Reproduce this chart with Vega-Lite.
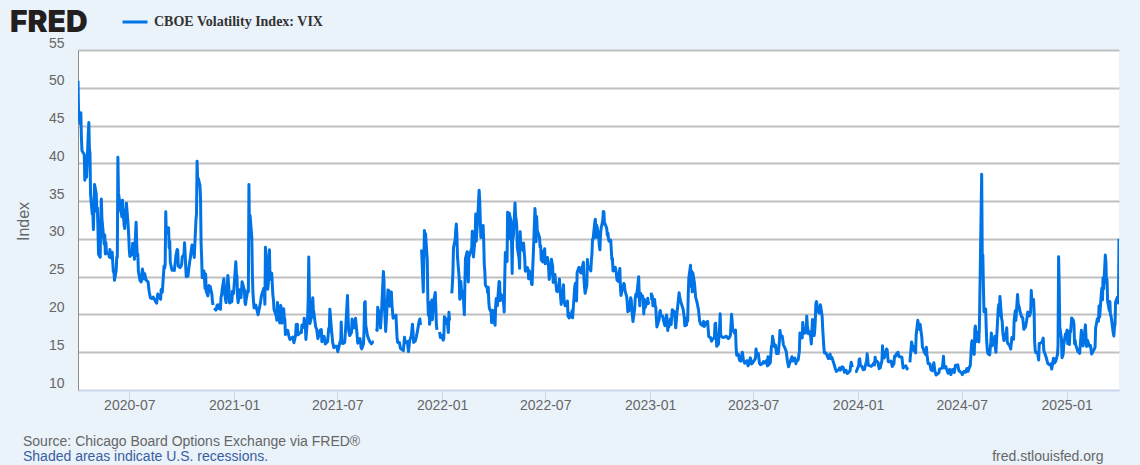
{"$schema":"https://vega.github.io/schema/vega-lite/v6.json","width":1041,"height":340,"autosize":"none","padding":{"left":78,"top":50,"right":21,"bottom":75},"background":"#eaf2fa","view":{"fill":"white","stroke":null},
"title":{"text":"Source: Chicago Board Options Exchange via FRED®","subtitle":"Shaded areas indicate U.S. recessions.","orient":"bottom","anchor":"start","frame":"group","dx":-55,"offset":-28,"font":"Liberation Sans","fontWeight":"normal","fontSize":14,"color":"#666666","subtitleFont":"Liberation Sans","subtitleFontSize":14,"subtitleColor":"#3a5e9e","subtitlePadding":1},
"data":{"values":[
{"d":"2020-04-02","v":50.91},{"d":"2020-04-03","v":46.8},{"d":"2020-04-06","v":45.24},{"d":"2020-04-07","v":46.7},{"d":"2020-04-08","v":43.35},{"d":"2020-04-09","v":41.67},{"d":"2020-04-13","v":41.17},{"d":"2020-04-14","v":37.76},{"d":"2020-04-15","v":40.84},{"d":"2020-04-16","v":40.11},{"d":"2020-04-17","v":38.15},{"d":"2020-04-20","v":43.83},{"d":"2020-04-21","v":45.41},{"d":"2020-04-22","v":41.98},{"d":"2020-04-23","v":41.38},{"d":"2020-04-24","v":35.93},{"d":"2020-04-27","v":33.29},{"d":"2020-04-28","v":33.57},{"d":"2020-04-29","v":31.23},{"d":"2020-04-30","v":34.15},{"d":"2020-05-01","v":37.19},{"d":"2020-05-04","v":35.97},{"d":"2020-05-05","v":33.61},{"d":"2020-05-06","v":34.12},{"d":"2020-05-07","v":31.44},{"d":"2020-05-08","v":27.98},{"d":"2020-05-11","v":27.57},{"d":"2020-05-12","v":33.04},{"d":"2020-05-13","v":35.28},{"d":"2020-05-14","v":32.61},{"d":"2020-05-15","v":31.89},{"d":"2020-05-18","v":29.3},{"d":"2020-05-19","v":30.53},{"d":"2020-05-20","v":27.99},{"d":"2020-05-21","v":29.53},{"d":"2020-05-22","v":28.16},{"d":"2020-05-26","v":28.01},{"d":"2020-05-27","v":27.62},{"d":"2020-05-28","v":28.59},{"d":"2020-05-29","v":27.51},{"d":"2020-06-01","v":28.23},{"d":"2020-06-02","v":26.84},{"d":"2020-06-03","v":25.66},{"d":"2020-06-04","v":25.81},{"d":"2020-06-05","v":24.52},{"d":"2020-06-08","v":25.81},{"d":"2020-06-09","v":27.57},{"d":"2020-06-10","v":27.57},{"d":"2020-06-11","v":40.79},{"d":"2020-06-12","v":36.09},{"d":"2020-06-15","v":34.4},{"d":"2020-06-16","v":33.67},{"d":"2020-06-17","v":33.47},{"d":"2020-06-18","v":32.94},{"d":"2020-06-19","v":35.12},{"d":"2020-06-22","v":31.77},{"d":"2020-06-23","v":31.37},{"d":"2020-06-24","v":33.84},{"d":"2020-06-25","v":32.22},{"d":"2020-06-26","v":34.73},{"d":"2020-06-29","v":31.78},{"d":"2020-06-30","v":30.43},{"d":"2020-07-01","v":28.62},{"d":"2020-07-02","v":27.68},{"d":"2020-07-06","v":27.94},{"d":"2020-07-07","v":29.43},{"d":"2020-07-08","v":28.08},{"d":"2020-07-09","v":29.26},{"d":"2020-07-10","v":27.29},{"d":"2020-07-13","v":32.19},{"d":"2020-07-14","v":29.52},{"d":"2020-07-15","v":27.76},{"d":"2020-07-16","v":28},{"d":"2020-07-17","v":25.68},{"d":"2020-07-20","v":24.46},{"d":"2020-07-22","v":24.3},{"d":"2020-07-24","v":26},{"d":"2020-07-27","v":24.7},{"d":"2020-07-28","v":25.4},{"d":"2020-07-30","v":24.7},{"d":"2020-07-31","v":24.5},{"d":"2020-08-03","v":24.3},{"d":"2020-08-05","v":23},{"d":"2020-08-07","v":22.2},{"d":"2020-08-10","v":22.1},{"d":"2020-08-12","v":22.3},{"d":"2020-08-14","v":22},{"d":"2020-08-18","v":21.5},{"d":"2020-08-20","v":22.7},{"d":"2020-08-21","v":22.5},{"d":"2020-08-25","v":22},{"d":"2020-08-26","v":23.3},{"d":"2020-08-28","v":22.96},{"d":"2020-08-31","v":26.4},{"d":"2020-09-01","v":26.1},{"d":"2020-09-02","v":26.6},{"d":"2020-09-03","v":33.6},{"d":"2020-09-04","v":30.75},{"d":"2020-09-08","v":31.46},{"d":"2020-09-09","v":28.8},{"d":"2020-09-10","v":29.7},{"d":"2020-09-11","v":26.87},{"d":"2020-09-14","v":25.85},{"d":"2020-09-16","v":26},{"d":"2020-09-18","v":25.8},{"d":"2020-09-21","v":27.8},{"d":"2020-09-23","v":28.6},{"d":"2020-09-24","v":28.5},{"d":"2020-09-25","v":26.4},{"d":"2020-09-28","v":26.2},{"d":"2020-09-30","v":26.4},{"d":"2020-10-01","v":26.7},{"d":"2020-10-02","v":27.6},{"d":"2020-10-05","v":27.96},{"d":"2020-10-06","v":29.5},{"d":"2020-10-07","v":28.1},{"d":"2020-10-08","v":26.4},{"d":"2020-10-09","v":25},{"d":"2020-10-12","v":25.07},{"d":"2020-10-14","v":26.4},{"d":"2020-10-15","v":26.97},{"d":"2020-10-16","v":27.4},{"d":"2020-10-19","v":29.18},{"d":"2020-10-21","v":28.65},{"d":"2020-10-22","v":28.1},{"d":"2020-10-23","v":27.55},{"d":"2020-10-26","v":32.46},{"d":"2020-10-27","v":33.35},{"d":"2020-10-28","v":40.28},{"d":"2020-10-29","v":37.59},{"d":"2020-10-30","v":38.02},{"d":"2020-11-02","v":37.13},{"d":"2020-11-03","v":35.55},{"d":"2020-11-04","v":29.57},{"d":"2020-11-05","v":27.58},{"d":"2020-11-06","v":24.86},{"d":"2020-11-09","v":25.75},{"d":"2020-11-10","v":24.8},{"d":"2020-11-11","v":23.45},{"d":"2020-11-12","v":25.35},{"d":"2020-11-13","v":23.1},{"d":"2020-11-16","v":22.45},{"d":"2020-11-18","v":23.84},{"d":"2020-11-19","v":23.11},{"d":"2020-11-20","v":23.7},{"d":"2020-11-23","v":22.66},{"d":"2020-11-24","v":21.64},{"d":"2020-11-25","v":21.25},{"d":"2020-11-26","v":null},{"d":"2020-11-27","v":20.84},{"d":"2020-11-30","v":20.57},{"d":"2020-12-01","v":20.77},{"d":"2020-12-02","v":21.17},{"d":"2020-12-03","v":21.28},{"d":"2020-12-04","v":20.79},{"d":"2020-12-07","v":21.3},{"d":"2020-12-08","v":20.68},{"d":"2020-12-09","v":22.27},{"d":"2020-12-10","v":22.52},{"d":"2020-12-11","v":23.31},{"d":"2020-12-14","v":24.72},{"d":"2020-12-15","v":22.89},{"d":"2020-12-16","v":22.5},{"d":"2020-12-17","v":21.93},{"d":"2020-12-18","v":21.57},{"d":"2020-12-21","v":25.16},{"d":"2020-12-22","v":24.23},{"d":"2020-12-23","v":23.31},{"d":"2020-12-24","v":21.53},{"d":"2020-12-28","v":21.7},{"d":"2020-12-29","v":23.08},{"d":"2020-12-30","v":22.77},{"d":"2020-12-31","v":22.75},{"d":"2021-01-04","v":26.97},{"d":"2021-01-05","v":25.34},{"d":"2021-01-06","v":25.07},{"d":"2021-01-07","v":22.37},{"d":"2021-01-08","v":21.56},{"d":"2021-01-11","v":23.23},{"d":"2021-01-12","v":23.33},{"d":"2021-01-13","v":22.21},{"d":"2021-01-14","v":23.25},{"d":"2021-01-15","v":24.34},{"d":"2021-01-19","v":23.24},{"d":"2021-01-20","v":21.58},{"d":"2021-01-21","v":21.32},{"d":"2021-01-22","v":21.91},{"d":"2021-01-25","v":23.19},{"d":"2021-01-26","v":23.02},{"d":"2021-01-27","v":37.21},{"d":"2021-01-28","v":30.21},{"d":"2021-01-29","v":33.09},{"d":"2021-02-01","v":30.24},{"d":"2021-02-02","v":25.56},{"d":"2021-02-03","v":22.91},{"d":"2021-02-04","v":21.77},{"d":"2021-02-05","v":20.87},{"d":"2021-02-08","v":21.24},{"d":"2021-02-12","v":19.97},{"d":"2021-02-16","v":21.46},{"d":"2021-02-18","v":22.49},{"d":"2021-02-22","v":23.45},{"d":"2021-02-23","v":23.11},{"d":"2021-02-24","v":21.34},{"d":"2021-02-25","v":28.89},{"d":"2021-02-26","v":27.95},{"d":"2021-03-01","v":23.35},{"d":"2021-03-02","v":24.1},{"d":"2021-03-03","v":26.67},{"d":"2021-03-04","v":28.57},{"d":"2021-03-05","v":24.66},{"d":"2021-03-08","v":25.47},{"d":"2021-03-09","v":24.03},{"d":"2021-03-10","v":22.56},{"d":"2021-03-11","v":21.91},{"d":"2021-03-12","v":20.69},{"d":"2021-03-15","v":20.03},{"d":"2021-03-16","v":19.79},{"d":"2021-03-17","v":19.23},{"d":"2021-03-18","v":21.58},{"d":"2021-03-19","v":20.95},{"d":"2021-03-22","v":18.88},{"d":"2021-03-23","v":20.3},{"d":"2021-03-24","v":21.2},{"d":"2021-03-25","v":19.81},{"d":"2021-03-26","v":18.86},{"d":"2021-03-29","v":20.74},{"d":"2021-03-30","v":19.61},{"d":"2021-03-31","v":19.4},{"d":"2021-04-01","v":17.33},{"d":"2021-04-05","v":17.91},{"d":"2021-04-07","v":17.16},{"d":"2021-04-09","v":16.69},{"d":"2021-04-12","v":16.91},{"d":"2021-04-14","v":16.99},{"d":"2021-04-16","v":16.25},{"d":"2021-04-19","v":17.3},{"d":"2021-04-20","v":18.68},{"d":"2021-04-21","v":17.5},{"d":"2021-04-22","v":18.7},{"d":"2021-04-23","v":17.3},{"d":"2021-04-27","v":17.6},{"d":"2021-04-29","v":17.6},{"d":"2021-04-30","v":18.6},{"d":"2021-05-03","v":18.3},{"d":"2021-05-04","v":19.5},{"d":"2021-05-06","v":18.4},{"d":"2021-05-07","v":16.7},{"d":"2021-05-10","v":19.66},{"d":"2021-05-11","v":21.8},{"d":"2021-05-12","v":27.6},{"d":"2021-05-13","v":23.1},{"d":"2021-05-14","v":18.8},{"d":"2021-05-17","v":19.7},{"d":"2021-05-18","v":21.3},{"d":"2021-05-19","v":22.2},{"d":"2021-05-20","v":20.7},{"d":"2021-05-21","v":20.2},{"d":"2021-05-24","v":18.4},{"d":"2021-05-26","v":18},{"d":"2021-05-28","v":16.8},{"d":"2021-06-01","v":17.9},{"d":"2021-06-03","v":18},{"d":"2021-06-04","v":16.4},{"d":"2021-06-08","v":17.1},{"d":"2021-06-10","v":16.1},{"d":"2021-06-14","v":16.4},{"d":"2021-06-16","v":18.15},{"d":"2021-06-17","v":17.75},{"d":"2021-06-18","v":20.7},{"d":"2021-06-21","v":17.9},{"d":"2021-06-23","v":16.3},{"d":"2021-06-25","v":15.6},{"d":"2021-06-28","v":15.8},{"d":"2021-06-30","v":15.8},{"d":"2021-07-02","v":15.07},{"d":"2021-07-06","v":16.4},{"d":"2021-07-07","v":16.2},{"d":"2021-07-08","v":19},{"d":"2021-07-09","v":16.18},{"d":"2021-07-12","v":16.17},{"d":"2021-07-14","v":16.3},{"d":"2021-07-16","v":18.45},{"d":"2021-07-19","v":22.5},{"d":"2021-07-20","v":19.7},{"d":"2021-07-21","v":17.9},{"d":"2021-07-23","v":17.2},{"d":"2021-07-26","v":17.6},{"d":"2021-07-27","v":19.4},{"d":"2021-07-28","v":18.3},{"d":"2021-07-30","v":18.2},{"d":"2021-08-02","v":19.5},{"d":"2021-08-04","v":18},{"d":"2021-08-06","v":16.2},{"d":"2021-08-10","v":16.8},{"d":"2021-08-12","v":15.6},{"d":"2021-08-13","v":15.45},{"d":"2021-08-16","v":16.1},{"d":"2021-08-17","v":17.9},{"d":"2021-08-18","v":21.6},{"d":"2021-08-19","v":21.7},{"d":"2021-08-20","v":18.6},{"d":"2021-08-23","v":17.2},{"d":"2021-08-25","v":16.8},{"d":"2021-08-27","v":16.4},{"d":"2021-08-30","v":16.1},{"d":"2021-09-02","v":16.4},{"d":"2021-09-03","v":16.4},{"d":"2021-09-06","v":null},{"d":"2021-09-07","v":18.1},{"d":"2021-09-09","v":17.9},{"d":"2021-09-10","v":20.95},{"d":"2021-09-14","v":19.5},{"d":"2021-09-15","v":18.2},{"d":"2021-09-17","v":20.8},{"d":"2021-09-20","v":25.7},{"d":"2021-09-21","v":24.4},{"d":"2021-09-22","v":20.9},{"d":"2021-09-24","v":17.75},{"d":"2021-09-28","v":23.25},{"d":"2021-09-30","v":23.1},{"d":"2021-10-01","v":21.1},{"d":"2021-10-04","v":22.96},{"d":"2021-10-05","v":21.3},{"d":"2021-10-07","v":19.5},{"d":"2021-10-12","v":19.9},{"d":"2021-10-14","v":16.9},{"d":"2021-10-15","v":16.3},{"d":"2021-10-18","v":16.3},{"d":"2021-10-20","v":15.5},{"d":"2021-10-22","v":15.4},{"d":"2021-10-25","v":15.2},{"d":"2021-10-27","v":16.98},{"d":"2021-10-28","v":16.5},{"d":"2021-10-29","v":16.26},{"d":"2021-11-01","v":16.4},{"d":"2021-11-03","v":15.1},{"d":"2021-11-05","v":16.5},{"d":"2021-11-08","v":17.2},{"d":"2021-11-10","v":18.7},{"d":"2021-11-11","v":17.7},{"d":"2021-11-12","v":16.3},{"d":"2021-11-15","v":16.5},{"d":"2021-11-17","v":17.1},{"d":"2021-11-19","v":17.9},{"d":"2021-11-22","v":19.2},{"d":"2021-11-23","v":19.4},{"d":"2021-11-24","v":18.6},{"d":"2021-11-25","v":null},{"d":"2021-11-26","v":28.6},{"d":"2021-11-29","v":22.96},{"d":"2021-11-30","v":27.2},{"d":"2021-12-01","v":31.1},{"d":"2021-12-02","v":27.95},{"d":"2021-12-03","v":30.67},{"d":"2021-12-06","v":27.18},{"d":"2021-12-07","v":21.89},{"d":"2021-12-08","v":19.9},{"d":"2021-12-09","v":21.6},{"d":"2021-12-10","v":18.69},{"d":"2021-12-13","v":20.3},{"d":"2021-12-14","v":21.9},{"d":"2021-12-15","v":19.3},{"d":"2021-12-16","v":20.6},{"d":"2021-12-17","v":21.6},{"d":"2021-12-20","v":22.9},{"d":"2021-12-21","v":21},{"d":"2021-12-22","v":18.6},{"d":"2021-12-23","v":17.96},{"d":"2021-12-24","v":null},{"d":"2021-12-27","v":17.68},{"d":"2021-12-28","v":17.5},{"d":"2021-12-29","v":16.95},{"d":"2021-12-30","v":17.3},{"d":"2021-12-31","v":17.2},{"d":"2022-01-03","v":16.6},{"d":"2022-01-04","v":16.9},{"d":"2022-01-05","v":19.7},{"d":"2022-01-06","v":19.6},{"d":"2022-01-07","v":18.8},{"d":"2022-01-10","v":19.4},{"d":"2022-01-11","v":18.4},{"d":"2022-01-12","v":17.6},{"d":"2022-01-13","v":20.3},{"d":"2022-01-14","v":19.2},{"d":"2022-01-17","v":null},{"d":"2022-01-18","v":22.8},{"d":"2022-01-19","v":23.9},{"d":"2022-01-20","v":25.6},{"d":"2022-01-21","v":28.85},{"d":"2022-01-24","v":29.9},{"d":"2022-01-25","v":31.16},{"d":"2022-01-26","v":31.96},{"d":"2022-01-27","v":30.5},{"d":"2022-01-28","v":27.66},{"d":"2022-01-31","v":24.8},{"d":"2022-02-01","v":22},{"d":"2022-02-02","v":22.1},{"d":"2022-02-03","v":24.35},{"d":"2022-02-04","v":23.2},{"d":"2022-02-07","v":22.9},{"d":"2022-02-08","v":21.44},{"d":"2022-02-09","v":19.96},{"d":"2022-02-10","v":23.9},{"d":"2022-02-11","v":27.4},{"d":"2022-02-14","v":28.3},{"d":"2022-02-15","v":25.7},{"d":"2022-02-16","v":24.3},{"d":"2022-02-17","v":28.1},{"d":"2022-02-18","v":27.75},{"d":"2022-02-22","v":28.8},{"d":"2022-02-23","v":31},{"d":"2022-02-24","v":30.3},{"d":"2022-02-25","v":27.6},{"d":"2022-02-28","v":30.2},{"d":"2022-03-01","v":33.3},{"d":"2022-03-02","v":29.7},{"d":"2022-03-03","v":31},{"d":"2022-03-04","v":32},{"d":"2022-03-07","v":36.45},{"d":"2022-03-08","v":35.1},{"d":"2022-03-09","v":32.5},{"d":"2022-03-10","v":30.2},{"d":"2022-03-11","v":30.75},{"d":"2022-03-14","v":31.77},{"d":"2022-03-15","v":29.8},{"d":"2022-03-16","v":26.67},{"d":"2022-03-17","v":25.67},{"d":"2022-03-18","v":23.87},{"d":"2022-03-21","v":23.53},{"d":"2022-03-22","v":22.9},{"d":"2022-03-23","v":23.6},{"d":"2022-03-24","v":21.67},{"d":"2022-03-25","v":20.8},{"d":"2022-03-28","v":20.3},{"d":"2022-03-29","v":18.9},{"d":"2022-03-30","v":19.3},{"d":"2022-03-31","v":20.56},{"d":"2022-04-01","v":19.6},{"d":"2022-04-04","v":18.57},{"d":"2022-04-05","v":21.03},{"d":"2022-04-06","v":22.1},{"d":"2022-04-07","v":21.55},{"d":"2022-04-08","v":21.16},{"d":"2022-04-11","v":24.37},{"d":"2022-04-12","v":24.26},{"d":"2022-04-13","v":21.82},{"d":"2022-04-14","v":22.7},{"d":"2022-04-18","v":22.17},{"d":"2022-04-19","v":21.37},{"d":"2022-04-20","v":20.32},{"d":"2022-04-21","v":25},{"d":"2022-04-22","v":28.21},{"d":"2022-04-25","v":27},{"d":"2022-04-26","v":33.52},{"d":"2022-04-27","v":31.6},{"d":"2022-04-28","v":29.99},{"d":"2022-04-29","v":33.4},{"d":"2022-05-02","v":32.34},{"d":"2022-05-03","v":29.25},{"d":"2022-05-04","v":25.42},{"d":"2022-05-05","v":31.2},{"d":"2022-05-06","v":30.19},{"d":"2022-05-09","v":34.75},{"d":"2022-05-10","v":32.99},{"d":"2022-05-11","v":32.56},{"d":"2022-05-12","v":31.77},{"d":"2022-05-13","v":28.87},{"d":"2022-05-16","v":27.47},{"d":"2022-05-17","v":26.1},{"d":"2022-05-18","v":30.96},{"d":"2022-05-19","v":29.35},{"d":"2022-05-20","v":29.43},{"d":"2022-05-23","v":28.48},{"d":"2022-05-24","v":29.45},{"d":"2022-05-25","v":28.37},{"d":"2022-05-26","v":27.5},{"d":"2022-05-27","v":25.72},{"d":"2022-05-31","v":26.19},{"d":"2022-06-01","v":25.69},{"d":"2022-06-02","v":24.72},{"d":"2022-06-03","v":25.79},{"d":"2022-06-06","v":25.07},{"d":"2022-06-07","v":24.02},{"d":"2022-06-08","v":23.96},{"d":"2022-06-09","v":26.09},{"d":"2022-06-10","v":27.75},{"d":"2022-06-13","v":34.02},{"d":"2022-06-14","v":32.69},{"d":"2022-06-15","v":29.62},{"d":"2022-06-16","v":32.95},{"d":"2022-06-17","v":31.13},{"d":"2022-06-21","v":30.19},{"d":"2022-06-22","v":28.95},{"d":"2022-06-23","v":29.05},{"d":"2022-06-24","v":27.23},{"d":"2022-06-27","v":26.95},{"d":"2022-06-28","v":28.36},{"d":"2022-06-29","v":28.16},{"d":"2022-06-30","v":28.71},{"d":"2022-07-01","v":26.7},{"d":"2022-07-05","v":27.54},{"d":"2022-07-06","v":27},{"d":"2022-07-07","v":26.1},{"d":"2022-07-08","v":24.64},{"d":"2022-07-11","v":26.17},{"d":"2022-07-12","v":27.29},{"d":"2022-07-13","v":26.82},{"d":"2022-07-14","v":26.4},{"d":"2022-07-15","v":24.23},{"d":"2022-07-18","v":25.3},{"d":"2022-07-19","v":24.5},{"d":"2022-07-20","v":23.88},{"d":"2022-07-21","v":23.11},{"d":"2022-07-22","v":23.03},{"d":"2022-07-25","v":23.36},{"d":"2022-07-26","v":24.69},{"d":"2022-07-27","v":23.24},{"d":"2022-07-28","v":22.33},{"d":"2022-07-29","v":21.33},{"d":"2022-08-01","v":22.84},{"d":"2022-08-02","v":23.93},{"d":"2022-08-03","v":21.95},{"d":"2022-08-04","v":21.44},{"d":"2022-08-05","v":21.15},{"d":"2022-08-08","v":21.29},{"d":"2022-08-09","v":21.77},{"d":"2022-08-10","v":19.74},{"d":"2022-08-11","v":20.23},{"d":"2022-08-12","v":19.53},{"d":"2022-08-15","v":19.95},{"d":"2022-08-16","v":19.69},{"d":"2022-08-17","v":20.49},{"d":"2022-08-18","v":19.56},{"d":"2022-08-19","v":20.6},{"d":"2022-08-22","v":23.8},{"d":"2022-08-23","v":24.11},{"d":"2022-08-24","v":23.75},{"d":"2022-08-25","v":21.78},{"d":"2022-08-26","v":25.56},{"d":"2022-08-29","v":26.21},{"d":"2022-08-30","v":26.21},{"d":"2022-08-31","v":25.87},{"d":"2022-09-01","v":25.56},{"d":"2022-09-02","v":25.47},{"d":"2022-09-06","v":26.91},{"d":"2022-09-07","v":24.64},{"d":"2022-09-08","v":23.61},{"d":"2022-09-09","v":22.79},{"d":"2022-09-12","v":23.87},{"d":"2022-09-13","v":27.27},{"d":"2022-09-14","v":26.16},{"d":"2022-09-15","v":26.27},{"d":"2022-09-16","v":26.3},{"d":"2022-09-19","v":25.76},{"d":"2022-09-20","v":27.16},{"d":"2022-09-21","v":27.99},{"d":"2022-09-22","v":29.92},{"d":"2022-09-23","v":29.92},{"d":"2022-09-26","v":32.26},{"d":"2022-09-27","v":32.6},{"d":"2022-09-28","v":30.18},{"d":"2022-09-29","v":31.84},{"d":"2022-09-30","v":31.62},{"d":"2022-10-03","v":30.1},{"d":"2022-10-04","v":29.07},{"d":"2022-10-05","v":28.55},{"d":"2022-10-06","v":30.52},{"d":"2022-10-07","v":31.36},{"d":"2022-10-10","v":32.45},{"d":"2022-10-11","v":33.63},{"d":"2022-10-12","v":33.57},{"d":"2022-10-13","v":31.94},{"d":"2022-10-14","v":32.02},{"d":"2022-10-17","v":31.37},{"d":"2022-10-18","v":30.5},{"d":"2022-10-19","v":30.76},{"d":"2022-10-20","v":29.98},{"d":"2022-10-21","v":29.69},{"d":"2022-10-24","v":29.85},{"d":"2022-10-25","v":28.46},{"d":"2022-10-26","v":27.28},{"d":"2022-10-27","v":27.39},{"d":"2022-10-28","v":25.75},{"d":"2022-10-31","v":25.88},{"d":"2022-11-01","v":26.25},{"d":"2022-11-02","v":25.86},{"d":"2022-11-03","v":25.3},{"d":"2022-11-04","v":24.55},{"d":"2022-11-07","v":24.35},{"d":"2022-11-08","v":25.54},{"d":"2022-11-09","v":26.09},{"d":"2022-11-10","v":23.53},{"d":"2022-11-11","v":22.52},{"d":"2022-11-14","v":23.73},{"d":"2022-11-15","v":23.86},{"d":"2022-11-16","v":24.11},{"d":"2022-11-17","v":23.93},{"d":"2022-11-18","v":23.12},{"d":"2022-11-21","v":22.36},{"d":"2022-11-22","v":21.5},{"d":"2022-11-23","v":20.35},{"d":"2022-11-25","v":20.5},{"d":"2022-11-28","v":22.21},{"d":"2022-11-29","v":21.89},{"d":"2022-11-30","v":20.58},{"d":"2022-12-01","v":19.84},{"d":"2022-12-02","v":19.06},{"d":"2022-12-05","v":20.75},{"d":"2022-12-06","v":22.21},{"d":"2022-12-07","v":22.68},{"d":"2022-12-08","v":22.29},{"d":"2022-12-09","v":22.83},{"d":"2022-12-12","v":25},{"d":"2022-12-13","v":22.55},{"d":"2022-12-14","v":21.14},{"d":"2022-12-15","v":22.83},{"d":"2022-12-16","v":22.62},{"d":"2022-12-19","v":22.42},{"d":"2022-12-20","v":21.97},{"d":"2022-12-21","v":20.07},{"d":"2022-12-22","v":22},{"d":"2022-12-23","v":20.87},{"d":"2022-12-27","v":21.65},{"d":"2022-12-28","v":22.14},{"d":"2022-12-29","v":21.44},{"d":"2022-12-30","v":21.67},{"d":"2023-01-02","v":null},{"d":"2023-01-03","v":22.9},{"d":"2023-01-04","v":22},{"d":"2023-01-05","v":22.46},{"d":"2023-01-06","v":21.13},{"d":"2023-01-09","v":21.97},{"d":"2023-01-10","v":21.09},{"d":"2023-01-11","v":21},{"d":"2023-01-12","v":19.5},{"d":"2023-01-13","v":18.35},{"d":"2023-01-17","v":19.36},{"d":"2023-01-18","v":20.34},{"d":"2023-01-19","v":20.52},{"d":"2023-01-20","v":19.85},{"d":"2023-01-23","v":19.81},{"d":"2023-01-25","v":19.08},{"d":"2023-01-27","v":18.51},{"d":"2023-01-30","v":19.94},{"d":"2023-01-31","v":19.4},{"d":"2023-02-01","v":17.87},{"d":"2023-02-02","v":18.73},{"d":"2023-02-03","v":18.33},{"d":"2023-02-06","v":19.43},{"d":"2023-02-07","v":18.66},{"d":"2023-02-09","v":20.63},{"d":"2023-02-10","v":20.53},{"d":"2023-02-13","v":20.34},{"d":"2023-02-15","v":18.23},{"d":"2023-02-17","v":20.02},{"d":"2023-02-21","v":22.87},{"d":"2023-02-22","v":22.29},{"d":"2023-02-24","v":21.67},{"d":"2023-02-27","v":20.95},{"d":"2023-02-28","v":20.7},{"d":"2023-03-02","v":19.6},{"d":"2023-03-03","v":18.49},{"d":"2023-03-06","v":18.6},{"d":"2023-03-07","v":19.59},{"d":"2023-03-08","v":19.11},{"d":"2023-03-09","v":22.61},{"d":"2023-03-10","v":24.8},{"d":"2023-03-13","v":26.52},{"d":"2023-03-14","v":23.73},{"d":"2023-03-15","v":25.74},{"d":"2023-03-16","v":22.99},{"d":"2023-03-17","v":25.51},{"d":"2023-03-20","v":24.1},{"d":"2023-03-22","v":22.26},{"d":"2023-03-24","v":21.74},{"d":"2023-03-27","v":20.6},{"d":"2023-03-29","v":19.12},{"d":"2023-03-31","v":18.7},{"d":"2023-04-03","v":18.55},{"d":"2023-04-05","v":19.08},{"d":"2023-04-06","v":18.4},{"d":"2023-04-10","v":18.97},{"d":"2023-04-12","v":19.09},{"d":"2023-04-14","v":17.07},{"d":"2023-04-17","v":16.95},{"d":"2023-04-19","v":16.46},{"d":"2023-04-21","v":16.77},{"d":"2023-04-24","v":16.89},{"d":"2023-04-25","v":18.76},{"d":"2023-04-26","v":18.84},{"d":"2023-04-28","v":15.78},{"d":"2023-05-01","v":16.08},{"d":"2023-05-03","v":18.34},{"d":"2023-05-04","v":20.09},{"d":"2023-05-05","v":17.19},{"d":"2023-05-08","v":16.98},{"d":"2023-05-10","v":16.94},{"d":"2023-05-12","v":17.03},{"d":"2023-05-15","v":17.12},{"d":"2023-05-17","v":16.87},{"d":"2023-05-19","v":16.81},{"d":"2023-05-22","v":17.21},{"d":"2023-05-24","v":20.03},{"d":"2023-05-25","v":19.14},{"d":"2023-05-26","v":17.95},{"d":"2023-05-30","v":17.46},{"d":"2023-05-31","v":17.94},{"d":"2023-06-01","v":15.65},{"d":"2023-06-02","v":14.6},{"d":"2023-06-05","v":14.73},{"d":"2023-06-07","v":13.94},{"d":"2023-06-09","v":13.83},{"d":"2023-06-12","v":15.01},{"d":"2023-06-14","v":13.88},{"d":"2023-06-16","v":13.54},{"d":"2023-06-20","v":13.88},{"d":"2023-06-22","v":13.2},{"d":"2023-06-23","v":13.44},{"d":"2023-06-26","v":14.25},{"d":"2023-06-28","v":13.43},{"d":"2023-06-30","v":13.59},{"d":"2023-07-05","v":14.18},{"d":"2023-07-06","v":15.44},{"d":"2023-07-07","v":14.83},{"d":"2023-07-10","v":14.84},{"d":"2023-07-12","v":13.54},{"d":"2023-07-14","v":13.34},{"d":"2023-07-17","v":13.48},{"d":"2023-07-19","v":13.76},{"d":"2023-07-21","v":13.6},{"d":"2023-07-24","v":13.9},{"d":"2023-07-26","v":13.19},{"d":"2023-07-27","v":14.41},{"d":"2023-07-28","v":13.33},{"d":"2023-07-31","v":13.63},{"d":"2023-08-02","v":15.8},{"d":"2023-08-03","v":15.9},{"d":"2023-08-04","v":17.1},{"d":"2023-08-07","v":15.77},{"d":"2023-08-09","v":15.96},{"d":"2023-08-11","v":14.84},{"d":"2023-08-14","v":14.82},{"d":"2023-08-16","v":16.5},{"d":"2023-08-17","v":17.89},{"d":"2023-08-18","v":17.3},{"d":"2023-08-21","v":17.13},{"d":"2023-08-23","v":15.98},{"d":"2023-08-25","v":15.68},{"d":"2023-08-28","v":15.08},{"d":"2023-08-30","v":13.88},{"d":"2023-09-01","v":13.09},{"d":"2023-09-05","v":14},{"d":"2023-09-07","v":14.4},{"d":"2023-09-08","v":13.84},{"d":"2023-09-12","v":14.23},{"d":"2023-09-14","v":13.48},{"d":"2023-09-15","v":13.79},{"d":"2023-09-18","v":14},{"d":"2023-09-20","v":15.14},{"d":"2023-09-21","v":17.54},{"d":"2023-09-25","v":16.9},{"d":"2023-09-26","v":18.94},{"d":"2023-09-27","v":18.22},{"d":"2023-09-29","v":17.52},{"d":"2023-10-02","v":17.61},{"d":"2023-10-03","v":19.78},{"d":"2023-10-04","v":18.58},{"d":"2023-10-06","v":17.45},{"d":"2023-10-09","v":17.7},{"d":"2023-10-11","v":16.09},{"d":"2023-10-13","v":19.32},{"d":"2023-10-16","v":17.2},{"d":"2023-10-17","v":17.88},{"d":"2023-10-18","v":19.22},{"d":"2023-10-19","v":21.4},{"d":"2023-10-20","v":21.71},{"d":"2023-10-23","v":20.37},{"d":"2023-10-25","v":20.19},{"d":"2023-10-26","v":20.68},{"d":"2023-10-27","v":21.27},{"d":"2023-10-30","v":19.75},{"d":"2023-10-31","v":18.14},{"d":"2023-11-01","v":16.87},{"d":"2023-11-02","v":15.66},{"d":"2023-11-03","v":14.91},{"d":"2023-11-06","v":14.89},{"d":"2023-11-08","v":14.45},{"d":"2023-11-10","v":14.17},{"d":"2023-11-13","v":14.76},{"d":"2023-11-14","v":14.16},{"d":"2023-11-16","v":14.32},{"d":"2023-11-20","v":13.41},{"d":"2023-11-22","v":12.85},{"d":"2023-11-24","v":12.46},{"d":"2023-11-28","v":12.69},{"d":"2023-11-30","v":12.92},{"d":"2023-12-01","v":12.63},{"d":"2023-12-04","v":13.08},{"d":"2023-12-06","v":12.97},{"d":"2023-12-08","v":12.35},{"d":"2023-12-11","v":12.63},{"d":"2023-12-13","v":12.19},{"d":"2023-12-15","v":12.28},{"d":"2023-12-18","v":12.56},{"d":"2023-12-20","v":13.67},{"d":"2023-12-22","v":13.03},{"d":"2023-12-25","v":null},{"d":"2023-12-27","v":12.43},{"d":"2023-12-29","v":12.45},{"d":"2024-01-02","v":13.2},{"d":"2024-01-03","v":14.04},{"d":"2024-01-04","v":14.13},{"d":"2024-01-05","v":13.35},{"d":"2024-01-08","v":13.08},{"d":"2024-01-10","v":12.69},{"d":"2024-01-12","v":12.7},{"d":"2024-01-16","v":13.84},{"d":"2024-01-17","v":14.79},{"d":"2024-01-18","v":14.13},{"d":"2024-01-19","v":13.3},{"d":"2024-01-22","v":13.19},{"d":"2024-01-24","v":13.14},{"d":"2024-01-26","v":13.26},{"d":"2024-01-29","v":13.6},{"d":"2024-01-30","v":13.31},{"d":"2024-01-31","v":14.35},{"d":"2024-02-01","v":13.88},{"d":"2024-02-02","v":13.85},{"d":"2024-02-05","v":13.67},{"d":"2024-02-07","v":12.83},{"d":"2024-02-09","v":12.93},{"d":"2024-02-12","v":13.93},{"d":"2024-02-13","v":15.85},{"d":"2024-02-14","v":14.38},{"d":"2024-02-16","v":14.24},{"d":"2024-02-20","v":15.42},{"d":"2024-02-21","v":15.34},{"d":"2024-02-22","v":14.54},{"d":"2024-02-23","v":13.75},{"d":"2024-02-26","v":13.74},{"d":"2024-02-28","v":13.84},{"d":"2024-03-01","v":13.11},{"d":"2024-03-04","v":13.49},{"d":"2024-03-05","v":14.46},{"d":"2024-03-07","v":14.44},{"d":"2024-03-08","v":14.74},{"d":"2024-03-11","v":15},{"d":"2024-03-13","v":14.4},{"d":"2024-03-15","v":14.41},{"d":"2024-03-18","v":14.33},{"d":"2024-03-20","v":12.92},{"d":"2024-03-22","v":13.06},{"d":"2024-03-25","v":13.19},{"d":"2024-03-27","v":12.78},{"d":"2024-03-28","v":13.01},{"d":"2024-03-29","v":null},{"d":"2024-04-01","v":13.65},{"d":"2024-04-02","v":14.61},{"d":"2024-04-04","v":16.35},{"d":"2024-04-05","v":16.03},{"d":"2024-04-08","v":15.19},{"d":"2024-04-10","v":15.8},{"d":"2024-04-11","v":14.91},{"d":"2024-04-12","v":17.31},{"d":"2024-04-15","v":19.23},{"d":"2024-04-16","v":18.4},{"d":"2024-04-18","v":18},{"d":"2024-04-19","v":18.71},{"d":"2024-04-22","v":16.94},{"d":"2024-04-23","v":15.69},{"d":"2024-04-25","v":15.37},{"d":"2024-04-26","v":15.03},{"d":"2024-04-29","v":14.67},{"d":"2024-04-30","v":15.65},{"d":"2024-05-01","v":14.68},{"d":"2024-05-03","v":13.49},{"d":"2024-05-06","v":13.49},{"d":"2024-05-08","v":12.69},{"d":"2024-05-10","v":12.55},{"d":"2024-05-13","v":13.6},{"d":"2024-05-15","v":12.45},{"d":"2024-05-17","v":11.99},{"d":"2024-05-20","v":12.15},{"d":"2024-05-22","v":12.29},{"d":"2024-05-23","v":12.77},{"d":"2024-05-28","v":12.92},{"d":"2024-05-30","v":14.47},{"d":"2024-05-31","v":12.92},{"d":"2024-06-03","v":13.11},{"d":"2024-06-05","v":12.63},{"d":"2024-06-07","v":12.22},{"d":"2024-06-10","v":12.74},{"d":"2024-06-12","v":12.04},{"d":"2024-06-14","v":12.66},{"d":"2024-06-17","v":12.75},{"d":"2024-06-18","v":12.3},{"d":"2024-06-20","v":13.28},{"d":"2024-06-21","v":13.2},{"d":"2024-06-24","v":13.33},{"d":"2024-06-26","v":12.55},{"d":"2024-06-28","v":12.44},{"d":"2024-07-01","v":12.22},{"d":"2024-07-02","v":12.03},{"d":"2024-07-05","v":12.48},{"d":"2024-07-08","v":12.37},{"d":"2024-07-10","v":12.85},{"d":"2024-07-12","v":12.46},{"d":"2024-07-15","v":13.12},{"d":"2024-07-16","v":13.19},{"d":"2024-07-17","v":14.48},{"d":"2024-07-18","v":15.93},{"d":"2024-07-19","v":16.52},{"d":"2024-07-22","v":14.91},{"d":"2024-07-23","v":14.72},{"d":"2024-07-24","v":18.04},{"d":"2024-07-25","v":18.46},{"d":"2024-07-26","v":16.39},{"d":"2024-07-29","v":16.6},{"d":"2024-07-30","v":17.69},{"d":"2024-07-31","v":16.36},{"d":"2024-08-01","v":18.59},{"d":"2024-08-02","v":23.39},{"d":"2024-08-05","v":38.57},{"d":"2024-08-06","v":27.71},{"d":"2024-08-07","v":27.85},{"d":"2024-08-08","v":23.79},{"d":"2024-08-09","v":20.37},{"d":"2024-08-12","v":20.71},{"d":"2024-08-13","v":18.12},{"d":"2024-08-14","v":16.19},{"d":"2024-08-15","v":15.23},{"d":"2024-08-16","v":14.8},{"d":"2024-08-19","v":14.65},{"d":"2024-08-21","v":16.27},{"d":"2024-08-22","v":17.55},{"d":"2024-08-23","v":15.86},{"d":"2024-08-26","v":16.15},{"d":"2024-08-28","v":17.11},{"d":"2024-08-29","v":15.65},{"d":"2024-08-30","v":15},{"d":"2024-09-03","v":20.72},{"d":"2024-09-04","v":21.32},{"d":"2024-09-05","v":19.9},{"d":"2024-09-06","v":22.38},{"d":"2024-09-09","v":19.45},{"d":"2024-09-10","v":19.08},{"d":"2024-09-11","v":17.69},{"d":"2024-09-12","v":17.07},{"d":"2024-09-13","v":16.56},{"d":"2024-09-16","v":17.14},{"d":"2024-09-18","v":18.23},{"d":"2024-09-19","v":16.33},{"d":"2024-09-20","v":16.15},{"d":"2024-09-23","v":15.89},{"d":"2024-09-25","v":15.41},{"d":"2024-09-27","v":16.96},{"d":"2024-09-30","v":16.73},{"d":"2024-10-01","v":19.26},{"d":"2024-10-03","v":20.49},{"d":"2024-10-04","v":19.21},{"d":"2024-10-07","v":22.64},{"d":"2024-10-08","v":21.42},{"d":"2024-10-10","v":20.93},{"d":"2024-10-11","v":20.46},{"d":"2024-10-14","v":19.7},{"d":"2024-10-16","v":19.58},{"d":"2024-10-18","v":18.03},{"d":"2024-10-21","v":18.37},{"d":"2024-10-23","v":19.24},{"d":"2024-10-25","v":20.33},{"d":"2024-10-28","v":19.8},{"d":"2024-10-30","v":20.35},{"d":"2024-10-31","v":23.16},{"d":"2024-11-01","v":21.88},{"d":"2024-11-04","v":21.98},{"d":"2024-11-05","v":20.49},{"d":"2024-11-06","v":16.27},{"d":"2024-11-07","v":15.2},{"d":"2024-11-08","v":14.94},{"d":"2024-11-11","v":14.97},{"d":"2024-11-13","v":13.97},{"d":"2024-11-14","v":16.14},{"d":"2024-11-15","v":16.14},{"d":"2024-11-19","v":16.35},{"d":"2024-11-21","v":16.87},{"d":"2024-11-22","v":15.24},{"d":"2024-11-25","v":14.6},{"d":"2024-11-27","v":14.1},{"d":"2024-11-29","v":13.51},{"d":"2024-12-02","v":13.34},{"d":"2024-12-04","v":13.45},{"d":"2024-12-06","v":12.77},{"d":"2024-12-09","v":14.19},{"d":"2024-12-11","v":13.58},{"d":"2024-12-13","v":13.81},{"d":"2024-12-16","v":14.69},{"d":"2024-12-17","v":15.87},{"d":"2024-12-18","v":27.62},{"d":"2024-12-19","v":24.09},{"d":"2024-12-20","v":18.36},{"d":"2024-12-23","v":16.78},{"d":"2024-12-24","v":14.27},{"d":"2024-12-26","v":14.73},{"d":"2024-12-27","v":15.95},{"d":"2024-12-30","v":17.4},{"d":"2024-12-31","v":17.35},{"d":"2025-01-02","v":17.93},{"d":"2025-01-03","v":16.13},{"d":"2025-01-06","v":16.04},{"d":"2025-01-07","v":17.82},{"d":"2025-01-08","v":17.7},{"d":"2025-01-10","v":19.54},{"d":"2025-01-13","v":19.19},{"d":"2025-01-14","v":18.71},{"d":"2025-01-15","v":16.12},{"d":"2025-01-16","v":16.6},{"d":"2025-01-17","v":15.97},{"d":"2025-01-21","v":15.06},{"d":"2025-01-22","v":15.1},{"d":"2025-01-23","v":15.02},{"d":"2025-01-24","v":14.85},{"d":"2025-01-27","v":17.9},{"d":"2025-01-28","v":16.41},{"d":"2025-01-29","v":16.56},{"d":"2025-01-30","v":15.84},{"d":"2025-01-31","v":16.43},{"d":"2025-02-03","v":18.62},{"d":"2025-02-04","v":17.21},{"d":"2025-02-05","v":15.77},{"d":"2025-02-07","v":16.54},{"d":"2025-02-10","v":15.81},{"d":"2025-02-12","v":15.89},{"d":"2025-02-14","v":14.77},{"d":"2025-02-18","v":15.35},{"d":"2025-02-20","v":15.66},{"d":"2025-02-21","v":18.21},{"d":"2025-02-24","v":19.43},{"d":"2025-02-25","v":19.43},{"d":"2025-02-26","v":19.1},{"d":"2025-02-27","v":21.13},{"d":"2025-02-28","v":19.63},{"d":"2025-03-03","v":22.78},{"d":"2025-03-04","v":23.51},{"d":"2025-03-05","v":21.93},{"d":"2025-03-06","v":24.87},{"d":"2025-03-07","v":23.37},{"d":"2025-03-10","v":27.86},{"d":"2025-03-11","v":26.92},{"d":"2025-03-12","v":24.23},{"d":"2025-03-13","v":24.66},{"d":"2025-03-14","v":21.77},{"d":"2025-03-17","v":20.51},{"d":"2025-03-18","v":21.7},{"d":"2025-03-19","v":19.9},{"d":"2025-03-20","v":19.8},{"d":"2025-03-21","v":19.28},{"d":"2025-03-24","v":17.48},{"d":"2025-03-25","v":17.15},{"d":"2025-03-26","v":18.33},{"d":"2025-03-27","v":18.69},{"d":"2025-03-28","v":21.65},{"d":"2025-03-31","v":22.28},{"d":"2025-04-01","v":21.77},{"d":"2025-04-02","v":21.51},{"d":"2025-04-03","v":30.02}
]},
"mark":{"type":"line","strokeWidth":3,"strokeJoin":"round","clip":true},
"encoding":{
"x":{"field":"d","type":"temporal","scale":{"type":"utc","domain":["2020-04-02","2025-04-03"]},
"axis":{"values":["2020-07-01","2021-01-01","2021-07-01","2022-01-01","2022-07-01","2023-01-01","2023-07-01","2024-01-01","2024-07-01","2025-01-01"],"format":"%Y-%m","grid":false,"domainColor":"#ccd6eb","domainWidth":1,"tickColor":"#ccd6eb","tickSize":10,"labelFont":"Liberation Sans","labelFontSize":14,"labelColor":"#666666","labelPadding":-2,"labelFlush":false,"title":"fred.stlouisfed.org","titleFont":"Liberation Sans","titleFontSize":14,"titleFontWeight":"normal","titleColor":"#666666","titleAnchor":"end","titleAlign":"right","titleX":1025,"titleY":66,"titleBaseline":"middle"}},
"y":{"field":"v","type":"quantitative","scale":{"domain":[10,55],"nice":false,"zero":false},
"axis":{"values":[10,15,20,25,30,35,40,45,50,55],"grid":true,"gridColor":{"condition":{"test":"datum.value==10","value":"#ccd6eb"},"value":"#c0c0c0"},"gridWidth":2,"domainColor":"#8c8c8c","domainWidth":1,"ticks":false,"labelFont":"Liberation Sans","labelFontSize":14,"labelColor":"#666666","labelPadding":14,"labelOffset":-7,"title":"Index","titleFont":"Liberation Sans","titleFontSize":16,"titleFontWeight":"normal","titleColor":"#666666","titleX":-47,"titleY":171}},
"color":{"datum":"CBOE Volatility Index: VIX","scale":{"range":["#0073e6"]},
"legend":{"orient":"none","legendX":-68,"legendY":-42,"title":"FRED","titleOrient":"left","titleFont":"Inter","titleFontWeight":900,"titleFontSize":30,"titleBaseline":"line-top","titleLineHeight":8,"titleColor":"#231f20","titlePadding":33,"symbolType":"stroke","symbolSize":625,"symbolStrokeWidth":3,"labelFont":"Liberation Serif","labelFontWeight":"bold","labelFontSize":14,"labelColor":"#333333","labelOffset":5,"labelLimit":300}}
}}
